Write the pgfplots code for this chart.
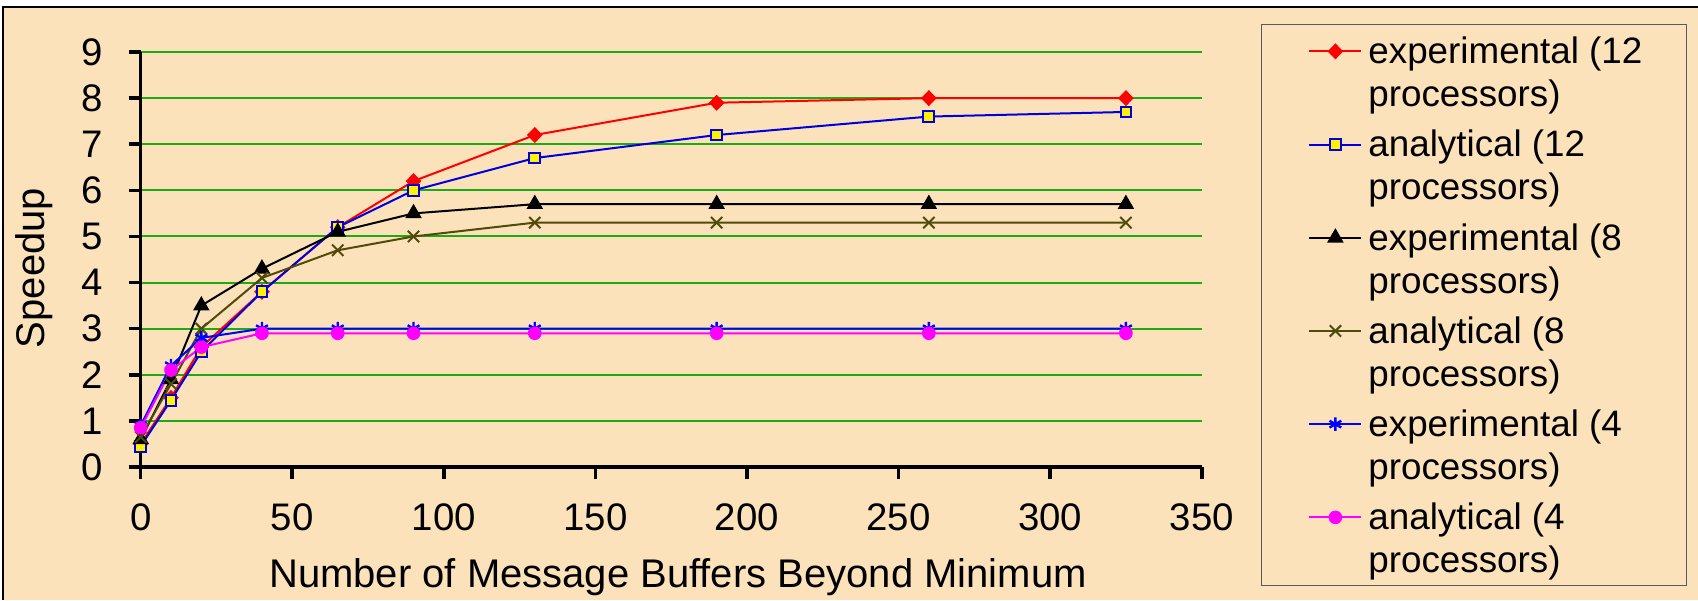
\documentclass[border=0pt]{standalone}
\usepackage{fontspec}
\setmainfont{Liberation Sans}
\usepackage{pgfplots}
\usepackage{pgfplotstable}
\pgfplotsset{compat=1.18}
\definecolor{bg}{RGB}{251,226,187}
\definecolor{gridgreen}{RGB}{30,170,20}
\definecolor{olive8}{RGB}{80,75,10}
\definecolor{blue12}{RGB}{0,0,220}
\definecolor{blue4}{RGB}{0,0,255}
\definecolor{mag}{RGB}{255,0,255}

\pgfplotstableread{
x   e12  a12  e8   a8   e4   a4
0   0.5  0.45 0.6  0.65 0.9  0.85
10  1.5  1.45 1.9  1.8  2.2  2.1
20  2.6  2.5  3.5  3.0  2.8  2.6
40  3.8  3.8  4.3  4.1  3.0  2.9
65  5.2  5.2  5.1  4.7  3.0  2.9
90  6.2  6.0  5.5  5.0  3.0  2.9
130 7.2  6.7  5.7  5.3  3.0  2.9
190 7.9  7.2  5.7  5.3  3.0  2.9
260 8.0  7.6  5.7  5.3  3.0  2.9
325 8.0  7.7  5.7  5.3  3.0  2.9
}\speeddata

\begin{document}
\begin{tikzpicture}
\useasboundingbox (0,0) rectangle (849pt,300pt);
\fill[bg] (1.5pt,0pt) rectangle (849pt,296.5pt);
\draw[black, line width=1pt] (1.5pt,0pt) -- (1.5pt,296.5pt) -- (849pt,296.5pt);
\draw[black!65, line width=0.6pt] (630.85pt,7.15pt) rectangle (843.35pt,287.85pt);
\begin{axis}[
  at={(70.35pt,66.5pt)}, anchor=south west,
  scale only axis, width=530.5pt, height=207.5pt,
  xmin=0, xmax=350, ymin=0, ymax=9,
  xtick={0,50,...,350}, ytick={0,1,...,9},
  axis x line*=bottom, axis y line*=left,
  axis line style={line width=1.8pt, black},
  tick align=outside, major tick length=6pt,
  tick style={line width=1.8pt, black},
  ymajorgrids, grid style={gridgreen, line width=1pt},
  clip=false,
  /pgf/number format/assume math mode=true,
  tick label style={font=\fontsize{19.2}{22}\selectfont},
  xticklabel style={inner sep=0pt, anchor=north, yshift=-12pt},
  yticklabel style={inner sep=0pt, anchor=east, xshift=-12.85pt},
  xlabel={Number of Message Buffers Beyond Minimum},
  ylabel={Speedup},
  label style={font=\fontsize{20}{24}\selectfont},
  xlabel style={at={(axis description cs:0.5064,-0.2892)}, anchor=base},
  ylabel style={at={(axis description cs:-0.1006,0.4795)}, anchor=center},
  legend image code/.code={\draw[mark repeat=2,mark phase=2,#1] plot coordinates {(0pt,0pt)(13pt,0pt)(26pt,0pt)};},
  legend style={draw=none, fill=none, inner sep=0pt, row sep=0pt, column sep=3pt,
    font=\fontsize{18.4}{21.5}\selectfont,
    at={(axis description cs:1.10019,1.05436)}, anchor=north west,
    nodes={inner sep=0pt, text height=16.95pt, text depth=4.55pt},
    cells={anchor=west}},
]
\addplot[red, line width=1pt, mark=diamond*, mark size=3.3pt, mark options={xscale=1.3, fill=red, solid}] table[x=x, y=e12] {\speeddata};
\addlegendentry{experimental (12}
\addlegendimage{empty legend}
\addlegendentry[text depth=8.15pt]{processors)}
\addplot[blue12, line width=1pt, mark=square*, mark size=2.7pt, mark options={fill=yellow, draw=blue12, line width=1pt}] table[x=x, y=a12] {\speeddata};
\addlegendentry{analytical (12}
\addlegendimage{empty legend}
\addlegendentry[text depth=8.15pt]{processors)}
\addplot[black, line width=1pt, mark=triangle*, mark size=3.8pt, mark options={fill=black}] table[x=x, y=e8] {\speeddata};
\addlegendentry{experimental (8}
\addlegendimage{empty legend}
\addlegendentry[text depth=8.15pt]{processors)}
\addplot[olive8, line width=1pt, mark=x, mark size=4pt, mark options={line width=1pt}] table[x=x, y=a8] {\speeddata};
\addlegendentry{analytical (8}
\addlegendimage{empty legend}
\addlegendentry[text depth=8.15pt]{processors)}
\addplot[blue4, line width=1pt, mark=asterisk, mark size=3.4pt, mark options={line width=1.2pt}] table[x=x, y=e4] {\speeddata};
\addlegendentry{experimental (4}
\addlegendimage{empty legend}
\addlegendentry[text depth=8.15pt]{processors)}
\addplot[mag, line width=1pt, mark=*, mark size=2.9pt, mark options={fill=mag, draw=mag}] table[x=x, y=a4] {\speeddata};
\addlegendentry{analytical (4}
\addlegendimage{empty legend}
\addlegendentry[text depth=8.15pt]{processors)}
\end{axis}
\end{tikzpicture}
\end{document}
